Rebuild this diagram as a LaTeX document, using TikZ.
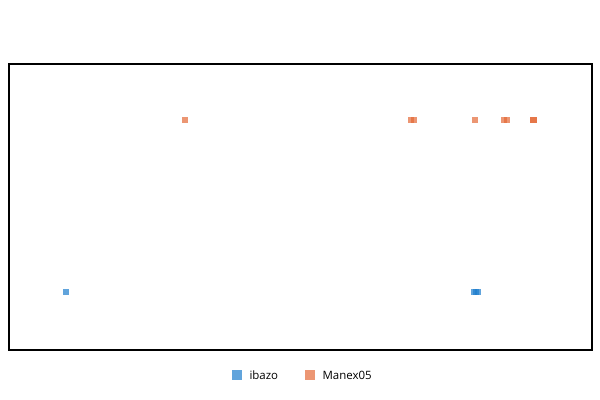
\documentclass[tikz,border=0pt]{standalone}
\usepackage{fontspec}
\setmainfont{Open Sans}
\usetikzlibrary{positioning}
\definecolor{ibazocol}{RGB}{30,125,205}
\definecolor{manexcol}{RGB}{228,105,55}
\begin{document}
\begin{tikzpicture}[x=0.75pt,y=-0.75pt,
    small node/.style={rectangle,inner sep=0pt,minimum size=5.2pt,fill opacity=0.7},
    key node/.style={rectangle,inner sep=0pt,minimum size=7pt},
    key text/.style={font=\fontsize{8.6}{10}\selectfont,inner sep=0pt,anchor=west}]
   \useasboundingbox (0,0) rectangle (600,400);
   % plot frame
   \draw[line width=1.5pt] (9,64) rectangle (592,350);
   % Manex05
   \node[small node,fill=manexcol] (m1) at (185,120) {};
   \node[small node,fill=manexcol] (m2) at (411,120) {};
   \node[small node,fill=manexcol] (m3) at (414,120) {};
   \node[small node,fill=manexcol] (m4) at (475,120) {};
   \node[small node,fill=manexcol] (m5) at (504,120) {};
   \node[small node,fill=manexcol] (m6) at (507,120) {};
   \node[small node,fill=manexcol] (m7) at (533.5,120) {};
   \node[small node,fill=manexcol] (m8) at (533.5,120) {};
   % ibazo
   \node[small node,fill=ibazocol] (i1) at (66,292) {};
   \node[small node,fill=ibazocol] (i2) at (474,292) {};
   \node[small node,fill=ibazocol] (i3) at (476,292) {};
   \node[small node,fill=ibazocol] (i4) at (478,292) {};
   % legend
   \node[key node,fill=ibazocol!70] (ki) at (237,375) {};
   \node[key text,right=5.5pt of ki] (ti) {ibazo};
   \node[key node,fill=manexcol!70] (km) at (310,375) {};
   \node[key text,right=5.5pt of km] (tm) {Manex05};
\end{tikzpicture}
\end{document}
